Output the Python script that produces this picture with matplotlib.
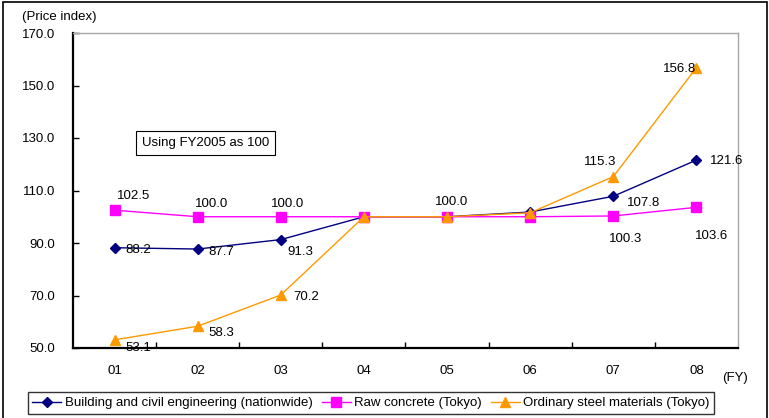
import matplotlib
matplotlib.use("Agg")
import matplotlib.pyplot as plt
from matplotlib.patches import Rectangle

plt.rcParams['font.family'] = ['Liberation Sans', 'DejaVu Sans']

years = ['01', '02', '03', '04', '05', '06', '07', '08']
building = [88.2, 87.7, 91.3, 100.0, 100.0, 101.8, 107.8, 121.6]
concrete = [102.5, 100.0, 100.0, 100.0, 100.0, 100.0, 100.3, 103.6]
steel = [53.1, 58.3, 70.2, 100.0, 100.0, 101.5, 115.3, 156.8]

# (series, index, dx, dy) -- offsets in pixels
labels = [
    (building, 0, 24, -2), (building, 1, 24, -3), (building, 2, 19, -12),
    (building, 6, 30, -7), (building, 7, 30, -1),
    (concrete, 0, 19, 14), (concrete, 1, 14, 13), (concrete, 2, 7, 13),
    (concrete, 4, 5, 15), (concrete, 6, 12, -23), (concrete, 7, 15, -29),
    (steel, 0, 24, -8), (steel, 1, 24, -7), (steel, 2, 25, -2),
    (steel, 6, -13, 15), (steel, 7, -17, -1),
]

fig = plt.figure(figsize=(7.69, 4.18), dpi=100)
ax = fig.add_axes([73 / 769, 1 - 348 / 418, 665 / 769, 315 / 418])

x = list(range(len(years)))
l1, = ax.plot(x, building, color='#000080', lw=1, marker='D', ms=5)
l2, = ax.plot(x, concrete, color='#ff00ff', lw=1, marker='s', ms=6.5)
l3, = ax.plot(x, steel, color='#ff9900', lw=1, marker='^', ms=7)

for s, i, dx, dy in labels:
    ax.annotate(f'{s[i]:.1f}', (i, s[i]), xytext=(dx, dy), textcoords='offset pixels',
                ha='center', va='center', fontsize=9.5)

ax.set_xlim(-0.5, 7.5)
ax.set_ylim(50, 170)
yt = [50, 70, 90, 110, 130, 150, 170]
ax.set_yticks(yt)
ax.set_yticklabels([f'{v:.1f}' for v in yt], fontsize=9.5)
ax.set_xticks(x)
ax.set_xticklabels(years, fontsize=9.5)
ax.set_xticks([i + 0.5 for i in range(7)], minor=True)
ax.tick_params(axis='x', which='major', length=0, pad=12)
ax.tick_params(axis='x', which='minor', direction='in', length=4, width=1)
ax.tick_params(axis='y', direction='in', length=4, width=1, pad=13)

for sp in ['left', 'bottom']:
    ax.spines[sp].set_linewidth(1.6)
    ax.spines[sp].set_color('black')
for sp in ['top', 'right']:
    ax.spines[sp].set_linewidth(1)
    ax.spines[sp].set_color('#a6a6a6')

ax.text(1.09, 128.1, 'Using FY2005 as 100', ha='center', va='center', fontsize=9.5,
        bbox=dict(boxstyle='square,pad=0.45', fc='white', ec='black', lw=0.8))

fig.text(22 / 769, 1 - 17 / 418, '(Price index)', ha='left', va='center', fontsize=9.5)
fig.text(735 / 769, 1 - 378 / 418, '(FY)', ha='center', va='center', fontsize=9.5)

fig.legend([l1, l2, l3],
           ['Building and civil engineering (nationwide)', 'Raw concrete (Tokyo)',
            'Ordinary steel materials (Tokyo)'],
           loc='center', bbox_to_anchor=(371 / 769, 1 - 403 / 418), ncol=3,
           fontsize=9.5, frameon=True, fancybox=False, edgecolor='black',
           handlelength=2.2, columnspacing=0.7, handletextpad=0.25, borderpad=0.35,
           borderaxespad=0)

fig.patches.append(Rectangle((3 / 769, -0.05), 764 / 769, 1.05 - 1.5 / 418,
                             transform=fig.transFigure, fill=False, ec='black', lw=1.2))

fig.savefig('out.png', dpi=100)
